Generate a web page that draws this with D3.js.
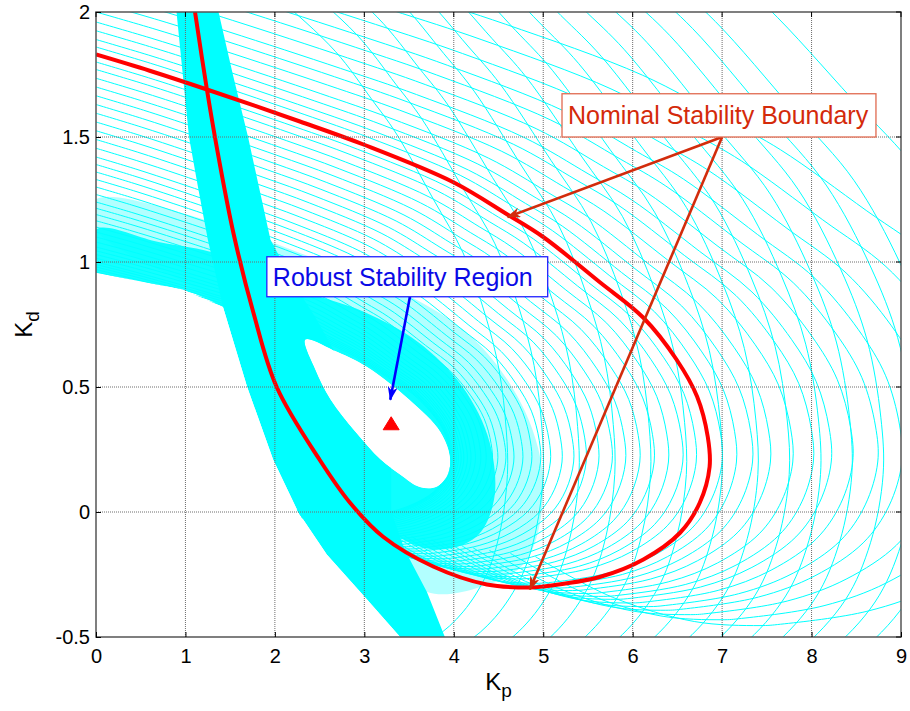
<!DOCTYPE html>
<html>
<head>
<meta charset="utf-8">
<title>Kp-Kd stability region</title>
<script src="https://cdn.jsdelivr.net/npm/d3@7"></script>
<style>
body { margin: 0; background: #fff; }
svg { display: block; font-family: Arial, "Liberation Sans", sans-serif; }
.tick text { font-size: 20px; fill: #000; }
</style>
</head>
<body>
<svg id="chart" width="910" height="711"></svg>
<script>
// ---- data (Kp, Kd) ----
var xTicks = [0, 1, 2, 3, 4, 5, 6, 7, 8, 9];
var yTicks = [-0.5, 0, 0.5, 1, 1.5, 2];
var yTickLabels = ["-0.5", "0", "0.5", "1", "1.5", "2"];

// nominal stability boundary (red)
var nominalKp = [0, 0.6, 1.24, 2.28, 2.99, 3.99, 4.6, 5.0, 5.63, 6.12, 6.49, 6.72, 6.84, 6.86, 6.75, 6.53, 6.12, 5.64, 5.0, 4.85, 4.37, 3.77, 3.21, 2.84, 2.5, 2.02, 1.76, 1.54, 1.37, 1.24, 1.107];
var nominalKd = [1.83, 1.765, 1.69, 1.562, 1.47, 1.32, 1.19, 1.10, 0.92, 0.777, 0.61, 0.462, 0.30, 0.18, 0.037, -0.083, -0.19, -0.259, -0.298, -0.302, -0.29, -0.218, -0.099, 0.037, 0.209, 0.50, 0.797, 1.11, 1.42, 1.69, 2.0];

// perturbed boundaries (cyan): where each one meets Kp = 0 and how far right it reaches
var loopStartKd = [0.96, 0.97, 0.98, 0.99, 1.0, 1.015, 1.03, 1.045, 1.06, 1.08, 1.10, 1.12, 1.14, 1.165, 1.19, 1.215, 1.24, 1.27, 1.30, 1.33, 1.36, 1.39, 1.42, 1.455, 1.49, 1.525, 1.56, 1.595, 1.63, 1.665, 1.70, 1.735, 1.77, 1.80, 1.86, 1.89, 1.925, 1.96, 2.0, 2.04, 2.08, 2.13, 2.18, 2.23, 2.29, 2.36, 2.44];
var loopRightKp = [3.96, 3.965, 3.97, 3.98, 3.99, 4.01, 4.03, 4.05, 4.08, 4.11, 4.15, 4.19, 4.24, 4.30, 4.36, 4.43, 4.49, 4.58, 4.67, 4.77, 4.87, 4.97, 5.08, 5.21, 5.34, 5.48, 5.62, 5.77, 5.92, 6.08, 6.24, 6.40, 6.56, 6.71, 7.0, 7.16, 7.34, 7.54, 7.79, 8.02, 8.22, 8.46, 8.74, 9.01, 9.4, 9.9, 10.5];
var loopTipKd = 0.2;
// taller members that enter from the top edge
var tallStartKd = [2.6, 2.7, 2.8, 2.9, 2.95, 3.0, 3.05, 3.1, 3.15, 3.2, 3.25, 3.3, 3.35, 3.4, 3.5];
var tallRightKp = [4.6, 5.0, 5.4, 5.8, 6.2, 6.6, 7.0, 7.4, 7.75, 8.1, 8.45, 8.8, 9.15, 9.5, 10.3];
var tallTipKd = 0.15;

// areas where the cyan lines merge into a solid colour
var bandSolid = [[0.90,2.0],[0.97,1.75],[1.04,1.5],[1.14,1.30],[1.25,1.09],[1.42,0.82],[1.69,0.5],[1.98,0.21],[2.26,0.0],[2.58,-0.17],[3.03,-0.35],[3.40,-0.5],[3.9,-0.5],[3.7,-0.32],[3.45,-0.15],[3.3,0.0],[3.3,0.2],[3.0,0.4],[2.7,0.62],[2.45,0.78],[2.2,0.92],[1.95,1.09],[1.7,1.5],[1.53,1.75],[1.37,2.0]];
var bandDense = [[0,0.957],[0,1.13],[0.7,1.08],[1.39,1.03],[2.36,0.88],[3.0,0.8],[3.6,0.68],[4.1,0.5],[4.4,0.28],[4.45,0.05],[4.25,-0.1],[3.8,-0.15],[3.3,-0.08],[2.9,0.1],[2.5,0.4],[2.0,0.7],[1.42,0.82],[0.97,0.89]];
var bandLight = [[0,1.13],[0,1.25],[1.4,1.15],[2.4,1.02],[3.3,0.9],[4.2,0.7],[4.8,0.4],[5.0,0.1],[4.8,-0.2],[4.3,-0.3],[3.7,-0.32],[3.2,-0.15],[2.5,0.4],[1.42,0.82]];
// white areas: robust region and the pocket left of the band
var holeRegion = [[2.34,0.69],[2.7,0.64],[3.03,0.58],[3.5,0.45],[3.85,0.32],[3.96,0.21],[3.92,0.14],[3.80,0.10],[3.62,0.10],[3.4,0.15],[3.18,0.21],[2.9,0.32],[2.62,0.45],[2.45,0.57]];
var whitePocket = [[0,-0.5],[0,0.957],[0.97,0.89],[1.42,0.82],[1.69,0.5],[1.98,0.21],[2.26,0.0],[2.58,-0.17],[3.03,-0.35],[3.40,-0.5]];

// annotations
var nominalBox = {x0: 5.21, x1: 8.72, y0: 1.5, y1: 1.673, label: "Nominal Stability Boundary"};
var nominalArrowFrom = [7.0, 1.5];
var nominalArrowTo = [[4.60, 1.18], [4.85, -0.31]];
var robustBox = {x0: 1.91, x1: 5.05, y0: 0.861, y1: 1.021, label: "Robust Stability Region"};
var robustArrowFrom = [3.51, 0.861];
var robustArrowTo = [3.29, 0.449];
var designPoint = [3.30, 0.353];

// ---- chart ----
var svg = d3.select("#chart");
var pLeft = 96, pRight = 901, pTop = 12, pBottom = 637;

var x = d3.scaleLinear().domain([0, 9]).range([pLeft, pRight]);
var y = d3.scaleLinear().domain([-0.5, 2]).range([pBottom, pTop]);

var straightPath = d3.line().x(d => x(d[0])).y(d => y(d[1]));
var smoothPath = d3.line().x(d => x(d[0])).y(d => y(d[1])).curve(d3.curveCatmullRom.alpha(0.5));
var loopPath = d3.line().x(d => x(d[0])).y(d => y(d[1])).curve(d3.curveCatmullRomClosed.alpha(0.5));

var defs = svg.append("defs");
defs.append("clipPath").attr("id", "plotclip")
  .append("rect").attr("x", pLeft).attr("y", pTop).attr("width", pRight - pLeft).attr("height", pBottom - pTop);
var plotRect = "M" + pLeft + "," + pTop + "H" + pRight + "V" + pBottom + "H" + pLeft + "Z";
defs.append("clipPath").attr("id", "cyanclip")
  .append("path").attr("clip-rule", "evenodd")
  .attr("d", plotRect + straightPath(whitePocket) + "Z" + loopPath(holeRegion));

function arrowMarker(id, color) {
  defs.append("marker").attr("id", id)
    .attr("viewBox", "0 0 14 10").attr("refX", 13).attr("refY", 5)
    .attr("markerWidth", 14).attr("markerHeight", 10)
    .attr("markerUnits", "userSpaceOnUse").attr("orient", "auto")
    .append("path").attr("d", "M0,0 L14,5 L0,10 L4,5 Z").attr("fill", color);
}
arrowMarker("headRed", "#d22c0c");
arrowMarker("headBlue", "#0000ff");

var plotArea = svg.append("g").attr("clip-path", "url(#plotclip)");
var cyanArea = plotArea.append("g").attr("clip-path", "url(#cyanclip)");

var nominal = nominalKp.map((v, i) => [v, nominalKd[i]]);
var nominalTip = nominal[d3.maxIndex(nominalKp)];

// each perturbed boundary is the nominal one drawn through its own pair of scales
function memberPath(startKd, rightKp, tipKd, nPts) {
  var xs = d3.scaleLinear().domain([0, nominalTip[0]]).range([x(0), x(rightKp)]);
  var ys = d3.scaleLinear().domain([nominalTip[1], nominal[0][1]]).range([y(tipKd), y(startKd)]);
  return d3.line().x(d => xs(d[0])).y(d => ys(d[1])).curve(d3.curveCatmullRom.alpha(0.5))(nominal.slice(0, nPts));
}

cyanArea.append("path").attr("d", loopPath(bandLight) + loopPath(holeRegion))
  .attr("fill", "#00ffff").attr("fill-opacity", 0.3).attr("fill-rule", "evenodd");
cyanArea.append("path").attr("d", loopPath(bandDense) + loopPath(holeRegion))
  .attr("fill", "#00ffff").attr("fill-opacity", 0.92).attr("fill-rule", "evenodd");

cyanArea.selectAll(".member").data(loopStartKd).enter().append("path")
  .attr("d", (d, i) => memberPath(d, loopRightKp[i], loopTipKd, 23))
  .attr("fill", "none").attr("stroke", "#00ffff").attr("stroke-width", 1);
cyanArea.selectAll(".tall").data(tallStartKd).enter().append("path")
  .attr("d", (d, i) => memberPath(d, tallRightKp[i], tallTipKd, 20))
  .attr("fill", "none").attr("stroke", "#00ffff").attr("stroke-width", 1);

// solid band; the robust region is cut out by the clip
cyanArea.append("path").attr("d", straightPath(bandSolid) + "Z").attr("fill", "#00ffff");

// grid (drawn over the curves like the reference)
var gridG = svg.append("g");
gridG.selectAll(".gx").data(xTicks.slice(1, -1)).enter().append("line")
  .attr("x1", d => x(d)).attr("x2", d => x(d)).attr("y1", pTop).attr("y2", pBottom)
  .attr("stroke", "#6e6e6e").attr("stroke-width", 1).attr("stroke-dasharray", "1,1");
gridG.selectAll(".gy").data(yTicks.slice(1, -1)).enter().append("line")
  .attr("x1", pLeft).attr("x2", pRight).attr("y1", d => y(d)).attr("y2", d => y(d))
  .attr("stroke", "#6e6e6e").attr("stroke-width", 1).attr("stroke-dasharray", "1,1");

// nominal boundary
plotArea.append("path").attr("d", smoothPath(nominal))
  .attr("fill", "none").attr("stroke", "#ff0000").attr("stroke-width", 4);

// axes box
svg.append("rect").attr("x", pLeft).attr("y", pTop).attr("width", pRight - pLeft).attr("height", pBottom - pTop)
  .attr("fill", "none").attr("stroke", "#555").attr("stroke-width", 1.5);

var xAxis = d3.axisBottom(x).tickValues(xTicks).tickSize(-5).tickPadding(12).tickFormat(d3.format("d"));
var gx = svg.append("g").attr("transform", "translate(0," + pBottom + ")").call(xAxis);
gx.select(".domain").remove();
gx.selectAll(".tick line").attr("stroke", "#000");

var yAxis = d3.axisLeft(y).tickValues(yTicks).tickSize(-5).tickPadding(6).tickFormat((d, i) => yTickLabels[i]);
var gy = svg.append("g").attr("transform", "translate(" + pLeft + ",0)").call(yAxis);
gy.select(".domain").remove();
gy.selectAll(".tick line").attr("stroke", "#000");

// top / right ticks
svg.selectAll(".xt2").data(xTicks).enter().append("line")
  .attr("x1", d => x(d)).attr("x2", d => x(d)).attr("y1", pTop).attr("y2", pTop + 5).attr("stroke", "#000");
svg.selectAll(".yt2").data(yTicks).enter().append("line")
  .attr("x1", pRight - 5).attr("x2", pRight).attr("y1", d => y(d)).attr("y2", d => y(d)).attr("stroke", "#000");

// axis labels
var xl = svg.append("text").attr("x", x(4.5)).attr("y", 690).attr("text-anchor", "middle").attr("font-size", 24);
xl.append("tspan").text("K");
xl.append("tspan").attr("font-size", 19).attr("dy", 7).text("p");
var yl = svg.append("text").attr("transform", "translate(32," + ((pTop + pBottom) / 2) + ") rotate(-90)")
  .attr("text-anchor", "middle").attr("font-size", 24);
yl.append("tspan").text("K");
yl.append("tspan").attr("font-size", 19).attr("dy", 7).text("d");

// design point
svg.append("path").attr("transform", "translate(" + x(designPoint[0]) + "," + y(designPoint[1]) + ")")
  .attr("d", "M-8,6 L0,-7 L8,6 Z").attr("fill", "#ff0000").attr("stroke", "#ff0000");

// annotations
function boxLabel(b, textColor, edge) {
  svg.append("rect").attr("x", x(b.x0)).attr("y", y(b.y1)).attr("width", x(b.x1) - x(b.x0)).attr("height", y(b.y0) - y(b.y1))
    .attr("fill", "#fff").attr("stroke", edge).attr("stroke-width", 1.3);
  svg.append("text").attr("x", x(b.x0) + 6).attr("y", (y(b.y0) + y(b.y1)) / 2 + 9)
    .attr("font-size", 25).attr("fill", textColor).text(b.label);
}
nominalArrowTo.forEach(function (t) {
  svg.append("line").attr("x1", x(nominalArrowFrom[0])).attr("y1", y(nominalArrowFrom[1]))
    .attr("x2", x(t[0])).attr("y2", y(t[1])).attr("stroke", "#d22c0c").attr("stroke-width", 2.6)
    .attr("marker-end", "url(#headRed)");
});
svg.append("line").attr("x1", x(robustArrowFrom[0])).attr("y1", y(robustArrowFrom[1]))
  .attr("x2", x(robustArrowTo[0])).attr("y2", y(robustArrowTo[1])).attr("stroke", "#0000ff").attr("stroke-width", 2.6)
  .attr("marker-end", "url(#headBlue)");
boxLabel(nominalBox, "#d42a0a", "#e06a50");
boxLabel(robustBox, "#0a0ae6", "#2020ff");
</script>
</body>
</html>
